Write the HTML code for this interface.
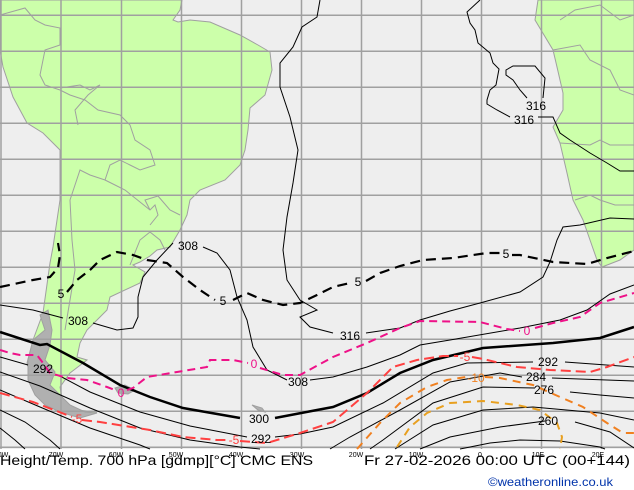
<!DOCTYPE html>
<html><head><meta charset="utf-8"><style>
html,body{margin:0;padding:0;background:#fff;}
svg{display:block;}
text{font-family:"Liberation Sans","DejaVu Sans",sans-serif;}
</style></head><body>
<svg width="634" height="490" viewBox="0 0 634 490" xmlns="http://www.w3.org/2000/svg">
<rect x="0" y="0" width="634" height="490" fill="#ffffff"/>
<rect x="0" y="0" width="634" height="449" fill="#eeeeee"/>
<g fill="#ccffaa" stroke="#a0a0a0" stroke-width="1">
<path d="M0,0 L182,0 L180,10 L173,20 L178,22 L190,20 L210,22 L240,35 L258,45 L270,52 L272,70 L265,95 L250,108 L248,130 L245,150 L240,165 L225,180 L200,190 L190,200 L187,215 L180,230 L170,247 L157,250 L150,256 L140,262 L133,265 L145,272 L140,283 L110,297 L107,310 L97,320 L87,330 L80,343 L77,357 L87,360 L70,373 L60,387 L63,403 L77,410 L97,412 L80,414 L50,407 L33,387 L27,363 L33,340 L43,313 L50,263 L53,247 L60,200 L60,150 L43,133 L27,123 L13,97 L3,67 L0,50 Z"/>
<path d="M538,0 L535,20 L553,50 L557,67 L563,93 L563,110 L553,127 L560,143 L567,173 L573,200 L583,220 L590,240 L597,260 L602,267 L620,260 L634,250 L634,0 Z"/>
</g>
<g fill="none" stroke="#a0a0a0" stroke-width="1">
<path d="M0,15 L25,8 L35,20 L45,25 L60,28 L60,45 L45,50 L40,75 L45,85 L60,90"/>
<path d="M60,88 L80,85 L90,90 L100,85 L88,95 L75,110 L78,125"/>
<path d="M60,90 L70,95 L85,100 L98,110 L120,115 L130,125 L135,140 L150,150 L155,165 L140,170 L130,165 L120,160 L110,165 L105,180 L90,175 L80,170 L75,185 L70,200"/>
<path d="M105,180 L115,185 L125,190 L135,198 L150,210 L155,205 L158,215 L150,225"/>
<path d="M150,210 L145,200 L158,196 L170,210 L180,215"/>
<path d="M70,200 L72,240 L75,270 L70,300 L65,330"/>
<path d="M130,265 L140,240 L150,232 L160,240 L165,250"/>
<path d="M560,20 L575,10 L600,5 L620,20 L634,15"/>
<path d="M553,50 L580,45 L590,60 L610,70 L620,90 L634,95"/>
<path d="M560,143 L590,145 L600,140 L610,145 L634,145"/>
<path d="M575,200 L590,195 L600,200 L615,205 L634,205"/>
</g>
<g fill="#b0b0b0" stroke="#a0a0a0" stroke-width="1">
<path d="M33,340 L45,330 L40,315 L48,310 L52,330 L50,345 L45,360 L55,372 L50,385 L60,395 L70,405 L85,412 L97,413 L80,418 L60,412 L45,405 L35,395 L28,380 L28,360 Z"/>
<path d="M115,388 L125,385 L135,390 L128,394 L118,393 Z"/>
<path d="M252,405 L262,408 L265,412 L258,410 Z"/>
</g>
<g stroke="#a0a0a0" stroke-width="1.5" fill="none">
<path d="M1,0V449M61,0V449M121.5,0V449M181.5,0V449M241.5,0V449M301.5,0V449M361.5,0V449M421.5,0V449M481.5,0V449M541.5,0V449M601.5,0V449"/>
<path d="M0,15.3H634M0,51.3H634M0,87.3H634M0,123.3H634M0,159.3H634M0,195.3H634M0,231.3H634M0,267.3H634M0,303.3H634M0,339.3H634M0,375.3H634M0,411.3H634M0,447.3H634"/>
</g>
<g fill="none" stroke="#000" stroke-width="1">
<path d="M320,0 L317,17 L302,27 L293,47 L280,63 L280,87 L290,117 L298,150 L293,183 L287,217 L283,250 L287,280 L300,300 L317,310 L300,317 L310,327 L333,333 M366,333 L400,328 L420,320 L450,311 L480,303 L520,292 L543,277 L550,262 L557,240 L563,227 L580,225 L610,218 L634,219"/>
<path d="M480,0 L467,12 L470,23 L475,30 L478,43 L490,53 L493,63 L499,69 L496,85 L490,90 L487,100 L487,104 L497,110 L510,117 M538,117 L553,117 L560,133 L570,140 L590,153 L607,163 L620,171 L634,171"/>
<path d="M543,98 L545,78 L535,66 L513,66 L506,70 L506,75 L513,80 L520,90 L527,98"/>
<path d="M0,305 L33,310 L63,318 M93,323 L117,330 L133,328 L138,317 L138,297 L143,277 L157,260 L173,243 M203,247 L217,253 L230,270 L237,297 L247,320 L253,347 L267,370 L287,380 M310,380 L333,377 L367,367 L400,355 L420,345 L450,340 L520,328 L560,320 L587,310 L610,294 L634,285"/>
<path stroke-width="2.5" d="M0,332 L40,345 L47,344 L83,363 L120,385 L150,397 L183,408 L240,418 M275,418 L317,410 L333,407 L367,393 L400,373 L433,360 L483,348 L553,343 L600,338 L634,327"/>
<path d="M0,357 L28,365 M58,375 L90,392 L140,412 L190,426 L247,437 M275,437 L300,434 L333,427 L383,403 L433,373 L467,363 L533,362 M565,362 L634,367"/>
<path d="M0,372 L40,386 L90,408 L140,428 L190,440 L240,447 L260,449 M330,449 L350,437 L400,410 L450,382 L500,373 L522,377 M552,378 L634,381"/>
<path d="M0,390 L40,407 L90,428 L140,445 L150,449 M370,449 L383,440 L433,403 L483,387 L535,388 M570,392 L600,395 L634,398"/>
<path d="M0,410 L25,422 L50,440 L60,449 M395,449 L433,425 L483,410 L533,407 L600,413 L634,420"/>
<path d="M420,449 L450,437 L500,427 L545,421 M575,422 L610,432 L634,448"/>
<path d="M460,449 L490,443 L520,440 L560,441 L600,447 L605,449"/>
<path d="M0,428 L15,440 L25,449"/>
</g>
<g fill="none" stroke-linecap="butt">
<path stroke="#000" stroke-width="2.2" stroke-dasharray="10,6" d="M0,287 L33,280 L50,277 L58,268 L60,255 L58,243 M67,292 L77,280 L90,270 L100,260 L117,252 L133,255 L147,260 L167,263 L183,277 L200,290 L215,300 M233,300 L247,293 L263,300 L283,305 L300,303 L317,295 L333,287 L350,283 M366,281 L380,273 L400,266 L423,260 L453,258 L487,253 L500,253 M512,255 L520,255 L553,262 L587,264 L607,258 L634,251"/>
<path stroke="#ee1188" stroke-width="2" stroke-dasharray="8,5" d="M0,350 L10,353 L20,355 L37,355 L43,363 L50,373 L67,378 L87,380 L107,387 L115,390 M127,390 L133,388 L147,377 L177,372 L207,367 L210,360 L233,360 L248,363 M260,368 L283,375 L300,375 L333,357 L367,343 L400,328 L420,321 L480,322 L507,329 L520,331 M535,328 L553,323 L580,317 L600,303 L634,293"/>
<path stroke="#ff4040" stroke-width="2" stroke-dasharray="10,5" d="M0,393 L33,402 L67,415 L72,417 M82,420 L100,422 L150,430 L183,437 L217,440 L228,440 M240,441 L267,443 L300,433 L333,422 L367,393 L393,367 L417,360 L443,356 L458,356 M472,357 L483,359 L517,367 L550,370 L590,372 L607,367 L634,357"/>
<path stroke="#f08020" stroke-width="2" stroke-dasharray="8,6" d="M357,449 L380,423 L400,403 L427,387 L447,380 L466,377 M485,377 L500,378 L533,385 L560,397 L583,407 L607,423 L623,433 L634,433"/>
<path stroke="#e8a020" stroke-width="2" stroke-dasharray="8,6" d="M397,447 L410,427 L427,413 L450,403 L483,401 L517,405 L540,410 L557,423 L562,437 L560,449"/>
</g>
<g font-size="12" text-anchor="middle">
<text x="350" y="340" fill="#000">316</text>
<text x="524" y="124" fill="#000">316</text>
<text x="536" y="110" fill="#000">316</text>
<text x="188" y="250" fill="#000">308</text>
<text x="78" y="325" fill="#000">308</text>
<text x="298" y="386" fill="#000">308</text>
<text x="259" y="423" fill="#000">300</text>
<text x="43" y="373" fill="#000">292</text>
<text x="261" y="443" fill="#000">292</text>
<text x="548" y="366" fill="#000">292</text>
<text x="536" y="381" fill="#000">284</text>
<text x="544" y="394" fill="#000">276</text>
<text x="548" y="425" fill="#000">260</text>
<text x="61" y="298" fill="#000">5</text>
<text x="223" y="305" fill="#000">5</text>
<text x="358" y="286" fill="#000">5</text>
<text x="506" y="258" fill="#000">5</text>
<text x="121" y="397" fill="#ee1188">0</text>
<text x="254" y="368" fill="#ee1188">0</text>
<text x="527" y="335" fill="#ee1188">0</text>
<text x="77" y="423" fill="#ff4040">-5</text>
<text x="234" y="444" fill="#ff4040">-5</text>
<text x="465" y="361" fill="#ff4040">-5</text>
<text x="476" y="382" fill="#f08020">-10</text>
</g>
<g font-size="7" fill="#000" text-anchor="middle">
<text x="3" y="457">0W</text><text x="56" y="457">70W</text><text x="116" y="457">60W</text><text x="176" y="457">50W</text><text x="236" y="457">40W</text><text x="297" y="457">30W</text><text x="356" y="457">20W</text><text x="416" y="457">10W</text><text x="480" y="457">0</text><text x="538" y="457">10E</text><text x="598" y="457">20E</text>
</g>
<text x="0" y="465" font-size="14" fill="#000" textLength="313" lengthAdjust="spacingAndGlyphs">Height/Temp. 700 hPa [gdmp][°C] CMC ENS</text>
<text x="364" y="465" font-size="14" fill="#000" textLength="266" lengthAdjust="spacingAndGlyphs">Fr 27-02-2026 00:00 UTC (00+144)</text>
<text x="488" y="486" font-size="12" fill="#0033aa" textLength="125" lengthAdjust="spacingAndGlyphs">©weatheronline.co.uk</text>
</svg>
</body></html>
